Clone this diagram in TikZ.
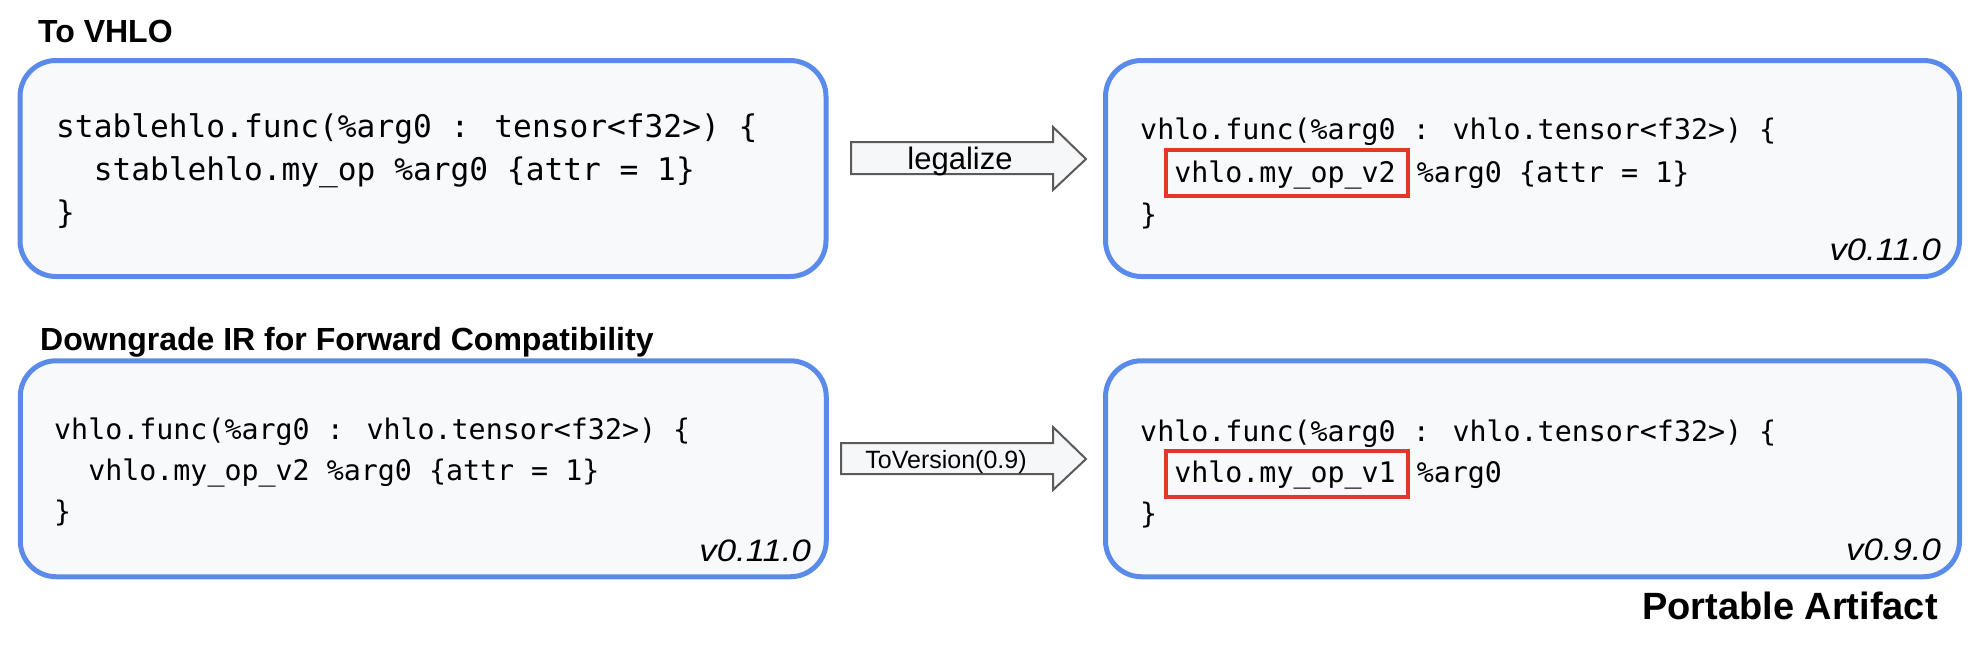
\documentclass[tikz,border=0pt]{standalone}
\usepackage{fontspec}
\setmainfont{Liberation Sans}
\newfontfamily\codefont{DejaVu Sans Mono}
\definecolor{boxblue}{HTML}{5A8BEA}
\definecolor{boxfill}{HTML}{F8F9FB}
\definecolor{hlred}{HTML}{E5362A}
\definecolor{arrowline}{HTML}{5A5A5A}
\definecolor{arrowfill}{HTML}{F6F7F9}
\begin{document}
\begin{tikzpicture}[x=1pt,y=-1pt,
  irbox/.style={draw=boxblue, line width=5pt, fill=boxfill, rounded corners=36pt, inner sep=0pt},
  codeA/.style={anchor=base west, inner sep=0pt, font=\codefont\fontsize{31.2}{38}\selectfont},
  codeB/.style={anchor=base west, inner sep=0pt, font=\codefont\fontsize{28.3}{35}\selectfont},
  hl/.style={draw=hlred, line width=4pt, inner sep=0pt},
  blockarrow/.style={draw=arrowline, line width=2pt, fill=arrowfill, line join=miter},
  heading/.style={anchor=base west, inner sep=0pt, font=\bfseries\fontsize{32}{38}\selectfont},
  ver/.style={anchor=base east, inner sep=0pt, font=\itshape\fontsize{31}{37}\selectfont},
  arrowlabel/.style={anchor=base, inner sep=0pt}
]
\useasboundingbox (0,0) rectangle (1986,648);

% boxes
\node[irbox, minimum width=806pt, minimum height=216pt] (b1) at (423,168.5) {};
\node[irbox, minimum width=854pt, minimum height=216pt] (b2) at (1532.5,168.5) {};
\node[irbox, minimum width=806pt, minimum height=216pt] (b3) at (423.25,468.75) {};
\node[irbox, minimum width=854pt, minimum height=216pt] (b4) at (1532.5,468.75) {};

% headings
\node[heading] (h1) at (38,42.3) {To VHLO};
\node[heading] (h2) at (40,350.7) {Downgrade IR for Forward Compatibility};
\node[anchor=base east, inner sep=0pt, font=\bfseries\fontsize{38}{45}\selectfont] (h3) at (1938,619.3) {Portable Artifact};

% box 1 code
\node[codeA] (c11) at (56,137) {stablehlo.func(\%arg0 : tensor<f32>) \{};
\node[codeA] (c12) at (56,180) {\phantom{vv}stablehlo.my\_op \%arg0 \{attr = 1\}};
\node[codeA] (c13) at (56,223) {\}};

% box 2 code
\node[codeB] (c21) at (1140,139.5) {vhlo.func(\%arg0 : vhlo.tensor<f32>) \{};
\node[codeB] (c22) at (1140,182) {\phantom{vv}vhlo.my\_op\_v2 \kern4pt\%arg0 \{attr = 1\}};
\node[codeB] (c23) at (1140,224.5) {\}};
\node[hl, minimum width=242pt, minimum height=46pt] (r2) at (1286.5,172.5) {};
\node[ver] (v2) at (1941,260) {\scalebox{1.12}[1]{v0.11.0}};

% box 3 code
\node[codeB] (c31) at (54,439) {vhlo.func(\%arg0 : vhlo.tensor<f32>) \{};
\node[codeB] (c32) at (54,480) {\phantom{vv}vhlo.my\_op\_v2 \%arg0 \{attr = 1\}};
\node[codeB] (c33) at (54,521) {\}};
\node[ver] (v3) at (811,561) {\scalebox{1.12}[1]{v0.11.0}};

% box 4 code
\node[codeB] (c41) at (1140,441) {vhlo.func(\%arg0 : vhlo.tensor<f32>) \{};
\node[codeB] (c42) at (1140,482) {\phantom{vv}vhlo.my\_op\_v1 \kern4pt\%arg0};
\node[codeB] (c43) at (1140,523) {\}};
\node[hl, minimum width=242pt, minimum height=46pt] (r4) at (1286.5,473.5) {};
\node[ver] (v4) at (1941,560) {\scalebox{1.12}[1]{v0.9.0}};

% block arrows
\draw[blockarrow] (851,142) -- (1053,142) -- (1053,127) -- (1086,159) -- (1053,190) -- (1053,174) -- (851,174) -- cycle;
\node[arrowlabel, font=\fontsize{31}{37}\selectfont] (l1) at (960,169) {legalize};
\draw[blockarrow] (841,443) -- (1053,443) -- (1053,427) -- (1086,459) -- (1053,490) -- (1053,474) -- (841,474) -- cycle;
\node[arrowlabel, font=\fontsize{25}{30}\selectfont] (l2) at (946,468) {ToVersion(0.9)};
\end{tikzpicture}
\end{document}
